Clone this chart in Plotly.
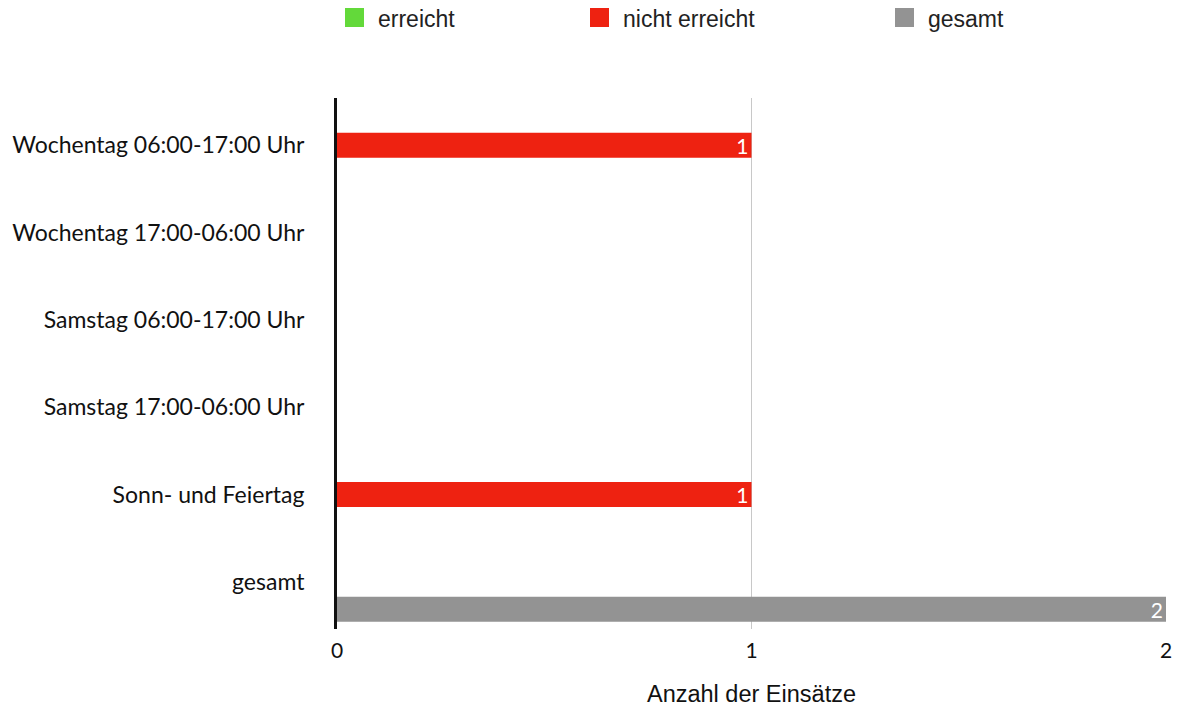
import plotly.graph_objects as go

# Kategorien (von oben nach unten) und Werte je Serie
categories = [
    "Wochentag 06:00-17:00 Uhr",
    "Wochentag 17:00-06:00 Uhr",
    "Samstag 06:00-17:00 Uhr",
    "Samstag 17:00-06:00 Uhr",
    "Sonn- und Feiertag",
    "gesamt",
]
series_names = ["erreicht", "nicht erreicht", "gesamt"]
erreicht = [0, 0, 0, 0, 0, 0]
nicht_erreicht = [1, 0, 0, 0, 1, 0]
gesamt = [0, 0, 0, 0, 0, 2]
x_ticks = [0, 1, 2]
x_title = "Anzahl der Einsätze"

colors = ["#63d93a", "#ee2211", "#939393"]
values = [erreicht, nicht_erreicht, gesamt]

LABEL_FONT = "Lato, 'Open Sans', sans-serif"
SANS_FONT = "'Liberation Sans', Arial, sans-serif"

W, H = 1180, 709
M_L, M_R, M_T, M_B = 337, 14, 98, 80
PW, PH = W - M_L - M_R, H - M_T - M_B


def px_x(px):
    return (px - M_L) / PW


def px_y(py):
    return (H - M_B - py) / PH


fig = go.Figure()
for name, vals, col in zip(series_names, values, colors):
    fig.add_trace(go.Bar(
        name=name,
        y=categories,
        x=vals,
        orientation="h",
        marker=dict(color=col, line=dict(width=0)),
        text=[str(v) if v else "" for v in vals],
        textposition="inside",
        insidetextanchor="end",
        textangle=0,
        constraintext="none",
        textfont=dict(color="white", size=21, family=LABEL_FONT),
        showlegend=False,
        hoverinfo="x+y+name",
    ))

# Legende als Quadrate mit Beschriftung oberhalb der Zeichenfläche
legend_left = [345, 590, 895]
shapes = []
annotations = []
for name, col, lx in zip(series_names, colors, legend_left):
    shapes.append(dict(
        type="rect", xref="paper", yref="paper",
        x0=px_x(lx), x1=px_x(lx + 19), y0=px_y(27), y1=px_y(8),
        fillcolor=col, line=dict(width=0),
    ))
    annotations.append(dict(
        xref="paper", yref="paper", x=px_x(lx + 31), y=px_y(19.5),
        xanchor="left", yanchor="middle", showarrow=False,
        text=name, font=dict(family=SANS_FONT, size=23, color="#222"),
    ))

fig.update_layout(
    width=W, height=H,
    margin=dict(l=M_L, r=M_R, t=M_T, b=M_B, pad=0, autoexpand=False),
    paper_bgcolor="white", plot_bgcolor="white",
    barmode="group", bargap=0.055, bargroupgap=0.09,
    showlegend=False,
    shapes=shapes,
    annotations=annotations,
    xaxis=dict(
        range=[0, 2], tickvals=x_ticks, ticktext=[str(t) for t in x_ticks],
        showgrid=True, gridcolor="#c8c8c8", gridwidth=1,
        zeroline=False, showline=False, ticks="",
        ticklabelstandoff=7, automargin=False,
        tickfont=dict(family=LABEL_FONT, size=21, color="#111"),
        title=dict(text=x_title, standoff=24,
                   font=dict(family=SANS_FONT, size=23.5, color="#111")),
        fixedrange=True,
    ),
    yaxis=dict(
        type="category", categoryorder="array", categoryarray=categories,
        range=[5.54, -0.542],
        showline=True, linecolor="#111", linewidth=3,
        showgrid=False, zeroline=False, ticks="",
        ticklabelstandoff=25, automargin=False,
        tickfont=dict(family=LABEL_FONT, size=23, color="#111"),
        fixedrange=True,
    ),
)

fig.write_html("out.html")
